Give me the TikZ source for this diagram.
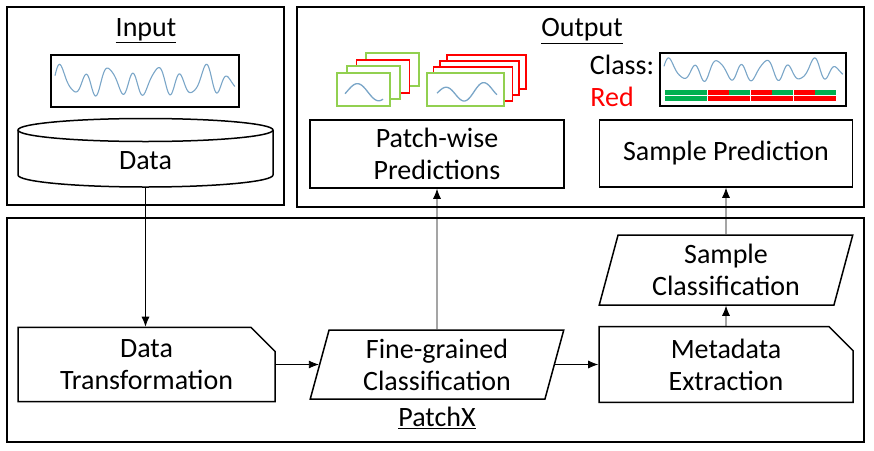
\documentclass[tikz,border=0pt]{standalone}
\usepackage{fontspec}
\setmainfont{Carlito}
\usetikzlibrary{shapes.geometric,shapes.misc,arrows.meta}
\definecolor{wave}{RGB}{122,166,200}
\definecolor{patchgreen}{RGB}{146,208,80}
\definecolor{barG}{RGB}{0,176,80}
\definecolor{barR}{RGB}{255,0,0}
% signal trace: x0, width, y centre, scale
\newcommand{\sigwave}[4]{%
  \draw[wave, line width=1.1pt] plot[domain=0:1, samples=200, smooth]
    ({#1+#2*\x},{#3-#4*(8*sin(2700*\x)+4*sin(1300*\x+60)+2.5*sin(4300*\x+30))});}

\begin{document}
\begin{tikzpicture}[x=1pt, y=-1pt, >={Latex[length=10pt,width=8pt]},
    every node/.style={font=\fontsize{28pt}{32pt}\selectfont},
    frame/.style={draw, line width=1.6pt, inner sep=0pt},
    box/.style={draw, line width=1.5pt, align=center, inner sep=0pt,
        minimum width=254pt, minimum height=69pt},
    slant/.style={box, trapezium, trapezium left angle=76,
        trapezium right angle=104, trapezium stretches=true},
    snip/.style={box, chamfered rectangle, chamfered rectangle corners=north east,
        chamfered rectangle sep=12pt},
    link/.style={->, line width=0.8pt, black},
    patchG/.style={draw=patchgreen, fill=white, line width=1.5pt},
    patchR/.style={draw=red, fill=white, line width=1.5pt}]
    \useasboundingbox (0,0) rectangle (874,450);

    % Frames
    \node[frame, minimum width=277pt, minimum height=198pt] (inbox) at (145.5,106) {};
    \node[frame, minimum width=567pt, minimum height=200pt] (outbox) at (580.5,107) {};
    \node[frame, minimum width=857pt, minimum height=224pt] (patchbox) at (435.5,330) {};

    % Input
    \node (intitle) at (146,31) {\underline{Input}};
    \node[frame, line width=1.5pt, minimum width=188pt, minimum height=52pt] (insig) at (145,81) {};
    \sigwave{55}{180}{82}{1.35}
    \draw[line width=1.5pt] (18,130) -- (18,175)
        arc[start angle=180, end angle=360, x radius=127.5pt, y radius=12pt] -- (273,130);
    \draw[line width=1.5pt] (145.5,130) ellipse [x radius=127.5pt, y radius=11.5pt];
    \node (data) at (145.5,161) {Data};
    \coordinate (dbot) at (145.5,187);

    % Output: patch stacks
    \foreach \dx/\dy/\st in {29/-20/patchG, 19.5/-13/patchR, 10/-7/patchG, 0/0/patchG}
        \draw[\st] (337+\dx,73+\dy) rectangle +(53,33);
    \draw[wave, line width=1.3pt] plot[domain=0:1, samples=60, smooth]
        ({345+38*\x},{91-8*sin(330*\x-20)+2*\x});
    \foreach \dx/\dy in {20/-18, 13/-12, 6.5/-6}
        \draw[patchR] (427+\dx,73+\dy) rectangle +(79,34);
    \draw[patchG] (427,73) rectangle +(77,33);
    \draw[wave, line width=1.3pt] plot[domain=0:1, samples=80, smooth]
        ({437+60*\x},{92-7*sin(600*\x-10)+3*sin(300*\x)});

    % Output: sample class
    \node (outtitle) at (582,31) {\underline{Output}};
    \node (classlbl) at (622,65) {Class:};
    \node[text=red] (redlbl) at (612,97) {Red};
    \node[frame, line width=1.5pt, minimum width=186pt, minimum height=53pt] (clsig) at (753,79.5) {};
    \sigwave{664}{179}{71}{1.0}
    \foreach \c [count=\i from 0] in {barG,barG,barR,barG,barR,barG,barR,barG}
        \fill[\c] ({664.5+21.5*\i},90) rectangle ({685.5+21.5*\i},94.5);
    \fill[barG] (664.5,96) rectangle (707,101);
    \foreach \i in {0,1,2}
        \fill[barR] ({707.5+43*\i},96) rectangle ({750+43*\i},101);

    \node[box, minimum height=68pt] (pwp) at (437,154) {Patch-wise\\Predictions};
    \node[box, minimum width=253pt, minimum height=67pt] (spred) at (726,153.5) {Sample Prediction};

    % PatchX
    \node[snip, minimum width=257pt] (dtrans) at (146.5,364.5) {Data\\Transformation};
    \node[slant] (fine) at (437,364.5) {Fine-grained\\Classification};
    \node[snip] (meta) at (726,364.5) {Metadata\\Extraction};
    \node[slant, minimum height=70pt] (sclass) at (726,270) {Sample\\Classification};
    \node (ptitle) at (437,418) {\underline{PatchX}};

    % Connectors
    \draw[link] (dbot) -- (dbot |- dtrans.north);
    \draw[link] (dtrans) -- (fine);
    \draw[link] (fine) -- (meta);
    \draw[link] (fine) -- (pwp);
    \draw[link] (meta) -- (sclass);
    \draw[link] (sclass) -- (spred);
\end{tikzpicture}
\end{document}
